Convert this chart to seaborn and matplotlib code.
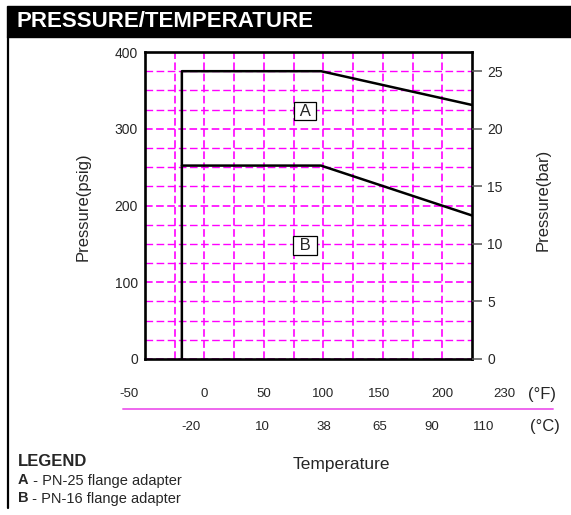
import numpy as np
import matplotlib
matplotlib.use("Agg")
import matplotlib.pyplot as plt
from matplotlib.patches import Rectangle
from matplotlib.lines import Line2D
import seaborn as sns

# --- data (temperature in degF, pressure in psig) ---
temp_a = [-19, -19, 98, 225]
psig_a = [0, 375, 375, 331]
temp_b = [-19, 98, 225]
psig_b = [252, 252, 187]

f_labels = ['-50', '0', '50', '100', '150', '200', '230']
c_labels = ['-20', '10', '38', '65', '90', '110']
psig_ticks = [0, 100, 200, 300, 400]
bar_ticks = [0, 5, 10, 15, 20, 25]
legend_lines = [('A', ' - PN-25 flange adapter'), ('B', ' - PN-16 flange adapter')]

# where the temperature row labels sit (degF axis units)
f_pos = [-63.5, 0, 50, 100, 147, 200, 252]
c_pos = [-11, 48.5, 100, 147, 191, 234.5]

PSIG_PER_BAR = 15
MAGENTA = '#FF00FF'

sns.set_style('white')
plt.rcParams['font.family'] = ['Liberation Sans', 'DejaVu Sans']
plt.rcParams['lines.scale_dashes'] = False

W, H = 571, 515
fig = plt.figure(figsize=(W / 100, H / 100), dpi=100)

def fx(px):
    return px / W

def fy(py):
    return 1 - py / H

# header bar and left frame line
fig.patches.append(Rectangle((fx(7), fy(37)), 1 - fx(7), fy(6) - fy(37),
                             transform=fig.transFigure, color='black', zorder=0))
fig.text(fx(17), fy(21.5), 'PRESSURE/TEMPERATURE', color='white',
         fontsize=16, fontweight='bold', va='center', ha='left')
fig.add_artist(Line2D([fx(8), fx(8)], [fy(37), fy(508)], transform=fig.transFigure,
                      color='black', lw=1.6))

ax = fig.add_axes([fx(145), fy(359), fx(472) - fx(145), fy(52) - fy(359)])
ax.set_xlim(-50, 225)
ax.set_ylim(0, 400)

# magenta dashed grid, 25 degF by 25 psig
ax.set_xticks(np.arange(-25, 225, 25))
ax.set_xticklabels([])
ax.tick_params(axis='x', length=0)
ax.set_yticks(psig_ticks)
ax.set_yticks(np.arange(25, 400, 25), minor=True)
ax.set_yticklabels([str(v) for v in psig_ticks], fontsize=10)
ax.tick_params(axis='y', which='both', length=0, pad=5)
ax.grid(True, which='major', color=MAGENTA, lw=1.2, dashes=(5.5, 2.5))
ax.grid(True, which='minor', axis='y', color=MAGENTA, lw=1.0, dashes=(5.5, 2.5))
ax.set_axisbelow(True)

for s in ax.spines.values():
    s.set_visible(True)
    s.set_color('black')
    s.set_linewidth(1.9)

# curves
sns.lineplot(x=temp_a, y=psig_a, ax=ax, sort=False, estimator=None,
             color='black', lw=1.8, zorder=5)
sns.lineplot(x=temp_b, y=psig_b, ax=ax, sort=False, estimator=None,
             color='black', lw=1.8, zorder=5)

box = dict(boxstyle='square,pad=0.1', fc='white', ec='black', lw=0.9)
ax.text(84.7, 323, ' A ', fontsize=12, ha='center', va='center', bbox=box, zorder=6)
ax.text(84.7, 148, ' B ', fontsize=12, ha='center', va='center', bbox=box, zorder=6)

ax.set_xlabel('')
ax.set_ylabel('')
ax.text((83 - 145) / 327, (359 - 207) / 307, 'Pressure(psig)', transform=ax.transAxes,
        rotation=90, ha='center', va='center', fontsize=12)

# bar axis on the right
ax2 = ax.twinx()
ax2.set_ylim(0, 400 / PSIG_PER_BAR)
ax2.set_yticks(bar_ticks)
ax2.set_yticklabels([str(v) for v in bar_ticks], fontsize=10)
ax2.tick_params(axis='y', right=True, length=7, width=1.1, color='#555555', pad=4)
ax2.grid(False)
for s in ax2.spines.values():
    s.set_visible(False)
ax.text((543 - 145) / 327, (359 - 200) / 307, 'Pressure(bar)', transform=ax.transAxes,
        rotation=90, ha='center', va='center', fontsize=12)

# temperature rows under the chart
trans = ax.get_xaxis_transform()
for lab, xp in zip(f_labels, f_pos):
    ax.text(xp, (359 - 394) / 307, lab, transform=trans, ha='center', va='center',
            fontsize=9.5, clip_on=False)
for lab, xp in zip(c_labels, c_pos):
    ax.text(xp, (359 - 427) / 307, lab, transform=trans, ha='center', va='center',
            fontsize=9.5, clip_on=False)
ax.text(284, (359 - 394) / 307, '(°F)', transform=trans, ha='center', va='center',
        fontsize=12, clip_on=False)
ax.text(286, (359 - 427) / 307, '(°C)', transform=trans, ha='center', va='center',
        fontsize=12, clip_on=False)
fig.add_artist(Line2D([fx(123), fx(553)], [fy(409), fy(409)], transform=fig.transFigure,
                      color='#EE66EE', lw=1.4))

fig.text(fx(341), fy(464), 'Temperature', ha='center', va='center', fontsize=12.5)

# legend block
fig.text(fx(18), fy(461), 'LEGEND', ha='left', va='center', fontsize=12, fontweight='bold')
for i, (key, desc) in enumerate(legend_lines):
    yy = fy(480.5 + 18 * i)
    t = fig.text(fx(18), yy, key, ha='left', va='center', fontsize=10.5, fontweight='bold')
    fig.canvas.draw()
    bb = t.get_window_extent()
    fig.text(bb.x1 / W, yy, desc, ha='left', va='center', fontsize=10.5)

fig.savefig('out.png', dpi=100)
